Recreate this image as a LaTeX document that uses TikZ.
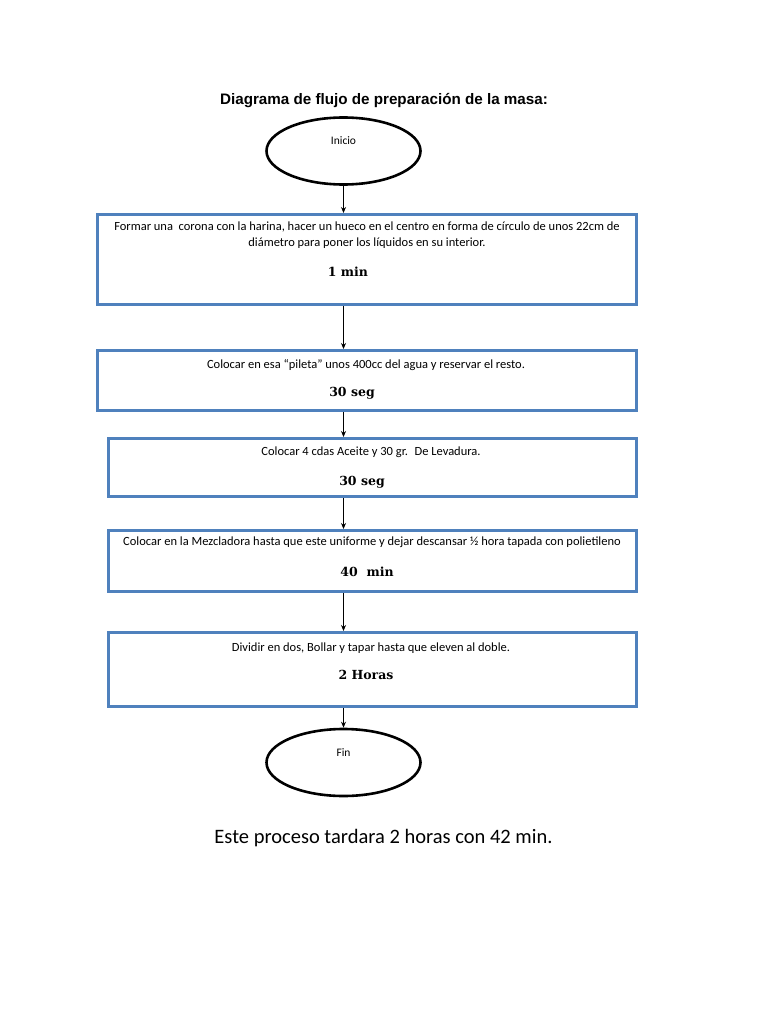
\documentclass[tikz,border=0pt]{standalone}
\usepackage{fontspec}
\setmainfont{Carlito}
\newfontfamily\titlefont{Liberation Sans}
\newfontfamily\durfont{DejaVu Serif}
\usetikzlibrary{shapes.geometric,arrows.meta}

\definecolor{boxblue}{HTML}{4F81BD}

\tikzset{
    stepbox/.style={draw=boxblue, line width=3pt, fill=white, rectangle, inner sep=0pt},
    term/.style={draw=black, line width=2.6pt, ellipse, minimum width=154pt, minimum height=67pt, inner sep=0pt},
    termtxt/.style={font=\fontsize{11.5}{13}\selectfont, inner sep=0pt},
    desc/.style={font=\fontsize{12.5}{16}\selectfont, inner sep=0pt, align=center},
    dur/.style={font=\durfont\bfseries\fontsize{12.5}{14}\selectfont, inner sep=0pt},
    flow/.style={draw=black, line width=0.9pt, -{Stealth[length=6pt, width=5pt]}}
}

\begin{document}
\begin{tikzpicture}[x=1pt, y=-1pt]

\useasboundingbox[fill=white] (0,0) rectangle (768,1024);

% Title
\node[font=\titlefont\bfseries\fontsize{15.2}{17}\selectfont, inner sep=0pt] (title) at (384,101) {Diagrama de flujo de preparación de la masa:};

% Start and end
\node[term] (ini) at (343.5,151) {};
\node[termtxt] (initxt) at (343.5,141) {Inicio};

\node[term] (fin) at (343.5,762.5) {};
\node[termtxt] (fintxt) at (343.5,753) {Fin};

% Process steps
\node[stepbox, minimum width=539pt, minimum height=90pt] (b1) at (367,259.5) {};
\node[desc] (t1) at (367,235) {Formar una \ corona con la harina, hacer un hueco en el centro en forma de círculo de unos 22cm de\\diámetro para poner los líquidos en su interior.};
\node[dur] (d1) at (348,272) {1 min};

\node[stepbox, minimum width=539pt, minimum height=60pt] (b2) at (367,380.5) {};
\node[desc] (t2) at (366,365) {Colocar en esa “pileta” unos 400cc del agua y reservar el resto.};
\node[dur] (d2) at (352,393) {30 seg};

\node[stepbox, minimum width=528pt, minimum height=58pt] (b3) at (372.5,467.5) {};
\node[desc] (t3) at (371,452) {Colocar 4 cdas Aceite y 30 gr. \ De Levadura.};
\node[dur] (d3) at (362,482) {30 seg};

\node[stepbox, minimum width=528pt, minimum height=61pt] (b4) at (372.5,561) {};
\node[desc] (t4) at (372,542) {Colocar en la Mezcladora hasta que este uniforme y dejar descansar ½ hora tapada con polietileno};
\node[dur] (d4) at (367,572) {40 \ min};

\node[stepbox, minimum width=528pt, minimum height=74pt] (b5) at (372.5,669.5) {};
\node[desc] (t5) at (371,648) {Dividir en dos, Bollar y tapar hasta que eleven al doble.};
\node[dur] (d5) at (366,675) {2 Horas};

% Connectors
\draw[flow] (ini.south) -- (ini.south |- b1.north);
\draw[flow] (b1.south -| ini) -- (b2.north -| ini);
\draw[flow] (b2.south -| ini) -- (b3.north -| ini);
\draw[flow] (b3.south -| ini) -- (b4.north -| ini);
\draw[flow] (b4.south -| ini) -- (b5.north -| ini);
\draw[flow] (b5.south -| ini) -- (fin.north);

% Total time
\node[font=\fontsize{20.5}{24}\selectfont, inner sep=0pt] (total) at (383.5,838) {Este proceso tardara 2 horas con 42 min.};

\end{tikzpicture}
\end{document}
